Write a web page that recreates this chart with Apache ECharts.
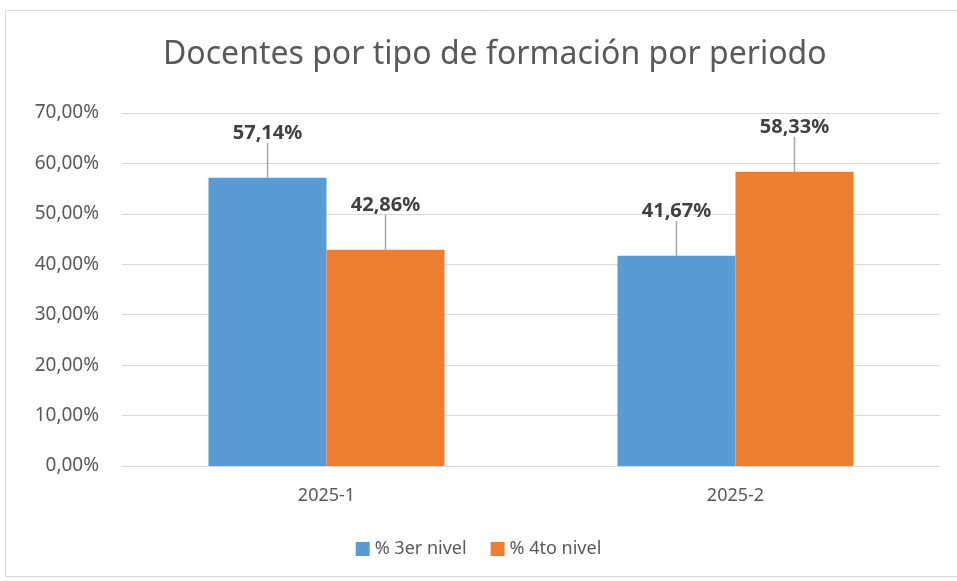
<!DOCTYPE html>
<html>
<head>
<meta charset="utf-8">
<script src="https://cdn.jsdelivr.net/npm/echarts@6/dist/echarts.min.js"></script>
<style>
    html, body { margin: 0; padding: 0; background: #fff; }
    #chart { width: 957px; height: 581px; }
</style>
</head>
<body>
<div id="chart"></div>
<script>
const categories = ['2025-1', '2025-2'];
const tercerNivel = [57.14, 41.67];
const cuartoNivel = [42.86, 58.33];
const yTicks = { min: 0, max: 70, interval: 10 };

const myChart = echarts.init(document.getElementById('chart'));

function pct(v) {
    return v.toFixed(2).replace('.', ',') + '%';
}

const textFont = 'Noto Sans';

const labelStyle = {
    show: true,
    position: 'top',
    distance: 0,
    fontFamily: textFont,
    fontSize: 20,
    fontWeight: 'bold',
    color: '#404040',
    formatter: function (p) { return pct(p.value); }
};

const option = {
    backgroundColor: '#fff',
    animation: false,
    graphic: [{
        type: 'rect',
        shape: { x: 5.5, y: 10.5, width: 960, height: 566 },
        style: { fill: 'none', stroke: '#d9d9d9', lineWidth: 1 },
        silent: true
    }],
    title: {
        text: 'Docentes por tipo de formación por periodo',
        left: 158,
        top: 34,
        textStyle: {
            fontFamily: textFont,
            fontSize: 32,
            fontWeight: 'normal',
            color: '#595959'
        }
    },
    legend: {
        data: ['% 3er nivel', '% 4to nivel'],
        bottom: 18,
        left: 'center',
        itemWidth: 14,
        itemHeight: 14,
        itemGap: 24,
        itemStyle: { borderWidth: 0 },
        icon: 'rect',
        textStyle: { fontFamily: textFont, fontSize: 18, color: '#595959' }
    },
    grid: { left: 122, right: 17, top: 113, bottom: 115 },
    xAxis: {
        type: 'category',
        data: categories,
        axisTick: { show: false },
        axisLine: { lineStyle: { color: '#d9d9d9', width: 1 } },
        axisLabel: { fontFamily: textFont, fontSize: 18, color: '#595959', margin: 21 }
    },
    yAxis: {
        type: 'value',
        min: yTicks.min,
        max: yTicks.max,
        interval: yTicks.interval,
        axisLine: { show: false },
        axisTick: { show: false },
        splitLine: { lineStyle: { color: '#d9d9d9', width: 1 } },
        axisLabel: {
            fontFamily: textFont, fontSize: 19, color: '#595959', margin: 23,
            formatter: function (v) { return pct(v); }
        }
    },
    series: [
        {
            name: '% 3er nivel',
            type: 'bar',
            data: tercerNivel,
            barWidth: 118,
            barGap: '0%',
            itemStyle: { color: '#5b9bd5' },
            label: labelStyle,
            labelLayout: { dy: -35 },
            labelLine: { show: true, lineStyle: { color: '#a6a6a6', width: 1.5 } }
        },
        {
            name: '% 4to nivel',
            type: 'bar',
            data: cuartoNivel,
            barWidth: 118,
            barGap: '0%',
            itemStyle: { color: '#ed7d31' },
            label: labelStyle,
            labelLayout: { dy: -35 },
            labelLine: { show: true, lineStyle: { color: '#a6a6a6', width: 1.5 } }
        }
    ]
};
myChart.setOption(option);
</script>
</body>
</html>
